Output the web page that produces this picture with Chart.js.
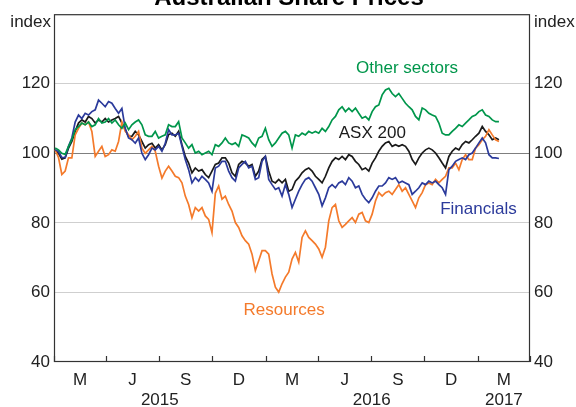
<!DOCTYPE html>
<html>
<head>
<meta charset="utf-8">
<script src="https://cdn.jsdelivr.net/npm/chart.js@4.4.1/dist/chart.umd.min.js"></script>
<style>
  html, body { margin: 0; padding: 0; background: #fff; }
</style>
</head>
<body>
<canvas id="myChart" width="576" height="407"></canvas>
<script>
// Index values, every 6 days from early Jan 2015
const firstDay = 2;       // days after 1 Jan 2015
const stepDays = 5.755;

const otherSectors = [
  101.5, 101, 100, 99.7, 102, 103.9, 106.8, 107.7, 108.7, 108.2, 109, 107.7, 108.2, 110, 108.7, 109, 110, 108.7,
  109.6, 108.2, 107.2, 108.7, 106.8, 108.2, 109, 109.6, 108.2, 105.3, 104.9, 104.9, 106.3, 104.4, 104.9, 105.3, 108.2,
  107.7, 107.7, 109.1, 104.4, 103, 101.5, 102.5, 100.1, 100.6, 99.6, 100.1, 100.6, 99.6, 102.5, 102, 103, 104.4,
  103, 102.5, 103, 102, 105.3, 104.9, 104.4, 103, 102, 104.4, 104.9, 107.2, 103.9, 102, 103, 104.4, 105.8,
  106.3, 105.3, 101.5, 105.3, 104.9, 105.8, 105.3, 106.3, 105.8, 106.3, 105.8, 107.2, 106.3, 107.7, 109.6, 110.6,
  112.5, 113.4, 112, 113, 112, 113, 111.5, 110.1, 110.6, 109.6, 112, 113.4, 113.9, 116.8, 118.2, 118.7, 117.2, 116.3, 117.2,
  115.8, 114.4, 113.4, 112.5, 110.6, 109.6, 113, 112.5, 111.5, 111, 110.6, 108.7, 105.8, 105.3, 105.3, 106.3, 107.2,
  108.2, 107.7, 108.7, 109.6, 110.6, 111, 112, 112.5, 111, 110.6, 109.6, 109.1, 109.1
];
const asx200 = [
  101, 100, 98.3, 98.7, 101.5, 103.4, 106.3, 108.7, 109.6, 109, 110.6, 110, 108.7, 109.6, 109, 110, 109, 109.6,
  110, 110.6, 108.7, 106.8, 104.9, 104.9, 106.3, 105.3, 103.4, 101.5, 102.5, 102.9, 101.5, 102.5, 101, 102.5, 105.4,
  105.8, 104.9, 106.3, 102.5, 99.1, 97.2, 94.4, 95.8, 94.9, 95.3, 93.9, 93, 94.9, 96.8, 97.2, 98.7, 98.7,
  97.2, 94.4, 93.4, 96.8, 97.7, 97.2, 96.3, 96.8, 93.4, 94.9, 98.2, 99.1, 94.9, 92, 91.5, 92.5, 91.5,
  92.5, 89.1, 89.6, 92, 93, 94.4, 95.3, 95.8, 94.9, 93.4, 92.5, 91.5, 93.4, 95.8, 97.7, 98.7,
  98.2, 99.1, 98.2, 99.6, 99.1, 97.7, 96.8, 95.3, 95.8, 94.9, 97.2, 98.7, 100.6, 102, 103, 103.4, 102, 102.5, 102,
  102.5, 102, 100.6, 98.2, 96.8, 98.7, 100.1, 101, 101.5, 101, 100.1, 98.7, 97.2, 95.8, 99.1, 100.6, 101.5,
  101, 102.5, 103.4, 103, 103.9, 104.9, 105.8, 107.7, 106.3, 105.3, 103.9, 104.4, 103.9
];
const financials = [
  101, 100.5, 98.8, 98.8, 102, 104.4, 109, 111, 110, 111.5, 111, 112, 112.5, 115.3, 114.4, 113.4, 114.9, 114.4,
  112.9, 111.5, 112.9, 107.2, 104.4, 103.9, 102.9, 104.4, 100, 98.2, 99.6, 101.5, 101, 102, 100.6, 102.9, 106.8,
  105.3, 105.3, 105.8, 102, 98.2, 95.3, 91.5, 93, 92, 93.4, 92.5, 91.5, 89.1, 95.8, 96.3, 97.7, 97.7,
  94.9, 93, 92, 95.8, 96.8, 97.7, 95.8, 96.3, 92.5, 93, 97.7, 99.1, 92.5, 91, 89.6, 90.1, 87.7,
  91, 88.2, 84.4, 86.8, 89.1, 91, 92.5, 93, 92, 90.1, 88.2, 84.9, 87.2, 90.1, 91, 90.1,
  91.5, 92, 91, 93, 92, 90.1, 90.6, 88.2, 86.8, 85.8, 87.2, 89.1, 90.6, 90.6, 91.5, 93, 92.5, 93, 91.5,
  92, 91.5, 91, 88.2, 89.1, 90.1, 91.5, 91, 92, 91.5, 92, 91, 90.1, 88.2, 95.3, 96.3, 97.7,
  98.2, 98.7, 98.2, 99.6, 100.1, 101.5, 103, 104.4, 103, 99.6, 98.7, 98.7, 98.5
];
const resources = [
  101, 98.8, 93.9, 94.9, 98.7, 98.7, 105.3, 107.2, 108.7, 108.2, 109, 106.3, 99.1, 100.6, 102, 99.1, 99.6, 101,
  100.6, 103.4, 109, 106.3, 105.3, 103.9, 104.9, 106.3, 101.5, 100, 101, 102, 100.6, 96.3, 92.9, 94.9, 96.3,
  94.9, 93.4, 93, 91.5, 87.7, 85.3, 81.5, 84.4, 83.4, 84.4, 82, 81, 77.2, 88.5, 90.6, 86.8, 87.7,
  85.3, 83.4, 80.1, 78.7, 76.3, 74.9, 73.9, 71, 66.3, 69.1, 72, 72, 71, 65.3, 61.5, 60.1, 62.5,
  64.4, 65.8, 69.6, 71.5, 68.7, 75.8, 77.7, 75.8, 74.9, 73.9, 72.5, 70.1, 73, 80.6, 84.4, 85.3,
  80.6, 78.7, 79.6, 80.6, 81.5, 80.1, 82.5, 83, 80.6, 80.1, 82.5, 86.3, 88.7, 87.7, 88.7, 89.1, 88.2, 89.6, 91,
  89.1, 90.1, 88.2, 86.3, 84.4, 87.2, 88.7, 91, 91.5, 91, 92.5, 91.5, 92.5, 93.4, 95.8, 95.8, 97.2,
  95.3, 98.2, 99.6, 98.2, 98.2, 101.5, 102.5, 103.9, 104.9, 106.8, 105.3, 103.9, 103.4
];

// x axis: quarters
const quarterStarts = ['2015-01-01', '2015-04-01', '2015-07-01', '2015-10-01', '2016-01-01',
                       '2016-04-01', '2016-07-01', '2016-10-01', '2017-01-01', '2017-04-01'];
const quarterLabels = ['M', 'J', 'S', 'D', 'M', 'J', 'S', 'D', 'M'];
const yearLabels = ['2015', '2016', '2017'];
const yearFirstQuarter = [0, 4, 8];
const yearLastQuarter = [3, 7, 8];

const yTicks = [40, 60, 80, 100, 120, 140];

const FONT = 'Arial, "Liberation Sans", sans-serif';
const COLORS = {
  other: '#00964b',
  asx: '#1a1a1a',
  fin: '#2b3a9b',
  res: '#f47a2b',
  frame: '#333333'
};

function dayOf(s) {
  return (Date.parse(s + 'T00:00:00Z') - Date.parse('2015-01-01T00:00:00Z')) / 86400000;
}
const qDays = quarterStarts.map(dayOf);

function toPoints(arr) {
  return arr.map((v, i) => ({ x: firstDay + i * stepDays, y: v }));
}

const seriesLabels = [
  { text: 'Other sectors', x: 609, y: 124.3, color: COLORS.other },
  { text: 'ASX 200', x: 549, y: 105.7, color: COLORS.asx },
  { text: 'Financials', x: 732, y: 84, color: COLORS.fin },
  { text: 'Resources', x: 397, y: 54.9, color: COLORS.res }
];

const overlay = {
  id: 'overlay',
  beforeDatasetsDraw(chart) {
    const { ctx, chartArea: a } = chart;
    ctx.save();
    ctx.strokeStyle = COLORS.frame;
    ctx.lineWidth = 1.2;
    ctx.strokeRect(a.left + 0.5, a.top + 0.5, a.right - a.left - 1, a.bottom - a.top - 1);
    // quarter tick marks, pointing up
    const xs = chart.scales.x;
    ctx.beginPath();
    qDays.forEach(d => {
      const px = Math.round(xs.getPixelForValue(d)) + 0.5;
      ctx.moveTo(px, a.bottom);
      ctx.lineTo(px, a.bottom - 6);
    });
    ctx.stroke();
    ctx.restore();
  },
  afterDraw(chart) {
    const { ctx, chartArea: a, scales: { x, y } } = chart;
    ctx.save();
    // title, cut off at the top edge
    ctx.fillStyle = '#000';
    ctx.font = 'bold 24px ' + FONT;
    ctx.textAlign = 'center';
    ctx.textBaseline = 'alphabetic';
    ctx.fillText('Australian Share Prices', 289, 5);

    ctx.font = '17px ' + FONT;
    ctx.fillStyle = '#222';
    ctx.textAlign = 'right';
    ctx.fillText('index', 51, 27);
    ctx.textAlign = 'left';
    ctx.fillText('index', 534, 27);

    // quarter and year labels
    ctx.textAlign = 'center';
    ctx.textBaseline = 'middle';
    quarterLabels.forEach((lab, i) => {
      const mid = (x.getPixelForValue(qDays[i]) + x.getPixelForValue(qDays[i + 1])) / 2;
      ctx.fillText(lab, mid, 380);
    });
    yearLabels.forEach((lab, i) => {
      const l = x.getPixelForValue(qDays[yearFirstQuarter[i]]);
      const r = x.getPixelForValue(qDays[yearLastQuarter[i] + 1]);
      ctx.fillText(lab, (l + r) / 2, 400);
    });

    // series names
    seriesLabels.forEach(s => {
      ctx.fillStyle = s.color;
      ctx.fillText(s.text, x.getPixelForValue(s.x), y.getPixelForValue(s.y));
    });
    ctx.restore();
  }
};

const tickFont = { family: FONT, size: 17 };

const config = {
  type: 'line',
  data: {
    datasets: [
      { label: 'Other sectors', data: toPoints(otherSectors), borderColor: COLORS.other },
      { label: 'Financials', data: toPoints(financials), borderColor: COLORS.fin },
      { label: 'Resources', data: toPoints(resources), borderColor: COLORS.res },
      { label: 'ASX 200', data: toPoints(asx200), borderColor: COLORS.asx }
    ]
  },
  options: {
    responsive: false,
    animation: false,
    layout: { padding: { top: 12, left: 0, right: 0, bottom: 0 } },
    elements: {
      point: { radius: 0 },
      line: { borderWidth: 1.7, tension: 0, fill: false }
    },
    plugins: {
      legend: { display: false },
      title: { display: false },
      tooltip: { enabled: false }
    },
    scales: {
      x: {
        type: 'linear',
        min: 0,
        max: qDays[qDays.length - 1],
        ticks: { display: false },
        grid: { display: false },
        border: { display: false },
        afterFit(s) { s.height = 45; }
      },
      y: {
        position: 'left',
        min: 40,
        max: 140,
        afterBuildTicks(s) { s.ticks = yTicks.map(v => ({ value: v })); },
        ticks: {
          font: tickFont,
          color: '#222',
          padding: 4,
          callback: v => (v === 140 ? '' : v)
        },
        grid: {
          drawTicks: false,
          lineWidth: 1,
          color: c => {
            const v = c.tick && c.tick.value;
            if (v === 100) return '#7f7f7f';
            if (v === 40 || v === 140) return 'rgba(0,0,0,0)';
            return '#cfcfcf';
          }
        },
        border: { display: false },
        afterFit(s) { s.width = 54; }
      },
      y2: {
        position: 'right',
        min: 40,
        max: 140,
        afterBuildTicks(s) { s.ticks = yTicks.map(v => ({ value: v })); },
        ticks: {
          font: tickFont,
          color: '#222',
          padding: 4,
          callback: v => (v === 140 ? '' : v)
        },
        grid: { display: false, drawTicks: false },
        border: { display: false },
        afterFit(s) { s.width = 46; }
      }
    }
  },
  plugins: [overlay]
};

const myChart = new Chart(document.getElementById('myChart'), config);
</script>
</body>
</html>
